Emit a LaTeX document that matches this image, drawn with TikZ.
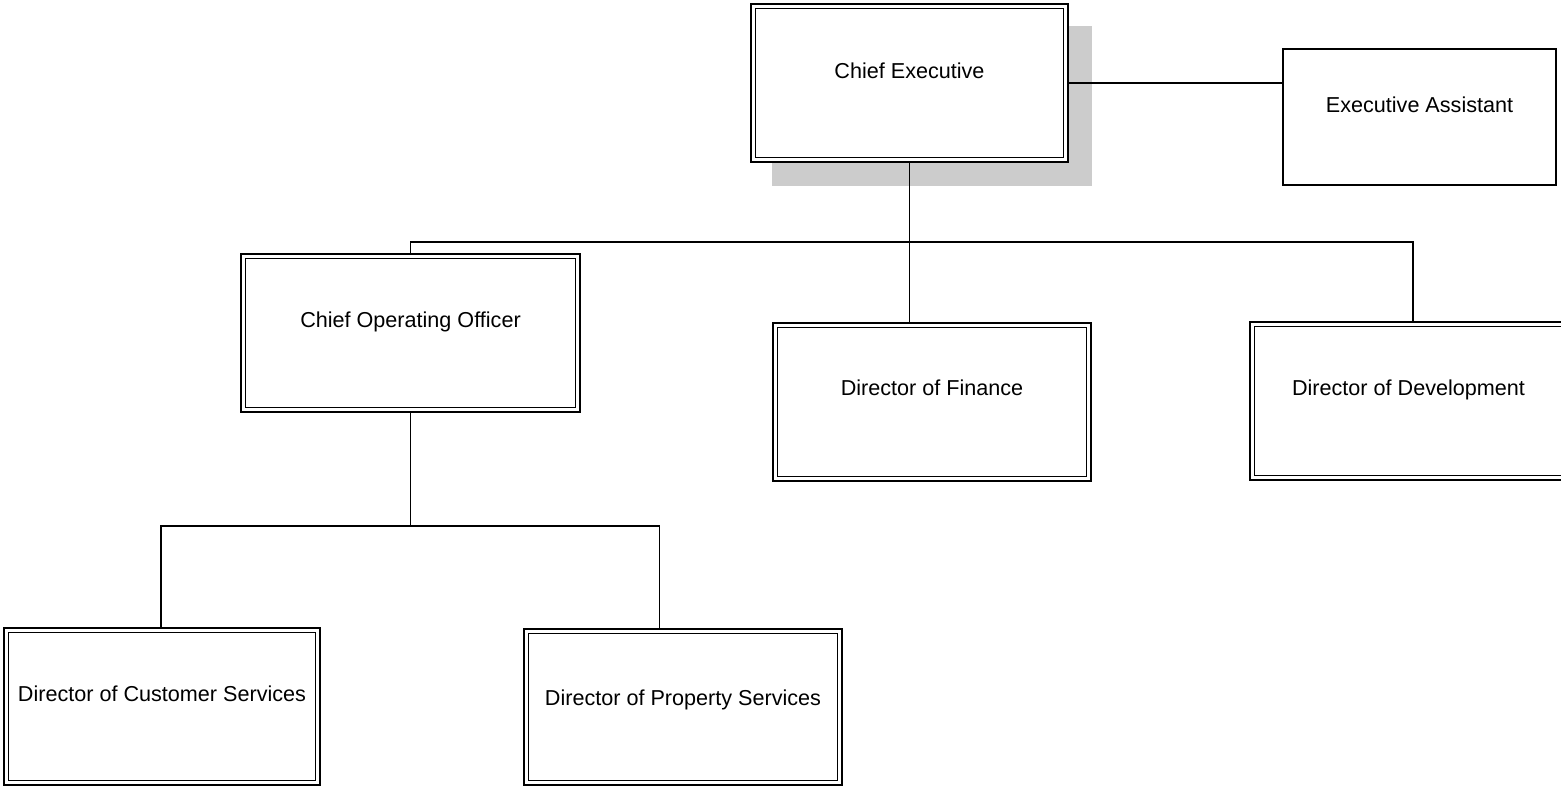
\documentclass[tikz,border=0pt]{standalone}
\usepackage{fontspec}
\setmainfont{Liberation Sans}
\usetikzlibrary{backgrounds}
\begin{document}
\begin{tikzpicture}[x=1pt,y=-1pt,
  dbox/.style={draw, line width=2.2pt, fill=white, inner sep=0pt, outer sep=0pt},
  sbox/.style={draw, line width=1.8pt, fill=white, inner sep=0pt, outer sep=0pt},
  innerline/.style={line width=1.3pt},
  conn/.style={line width=1.8pt},
  lbl/.style={anchor=base, inner sep=0pt, font=\fontsize{21.6}{26}\selectfont},
  shadowc/.style={fill=black!20}]
\useasboundingbox (0,0) rectangle (1561,787);
\clip (0,0) rectangle (1561,787);

% boxes
\node[dbox, minimum width=317pt, minimum height=158pt] (ce)  at (909.5,83)  {};
\node[sbox, minimum width=273pt, minimum height=136pt] (ea)  at (1419.5,117) {};
\node[dbox, minimum width=339pt, minimum height=158pt] (coo) at (410.5,333) {};
\node[dbox, minimum width=318pt, minimum height=158pt] (df)  at (932,402)   {};
\node[dbox, minimum width=317pt, minimum height=158pt] (dd)  at (1408.5,401) {};
\node[dbox, minimum width=316pt, minimum height=157pt] (dcs) at (162,706.5) {};
\node[dbox, minimum width=318pt, minimum height=156pt] (dps) at (683,707)   {};

\foreach \b in {ce,coo,df,dd,dcs,dps}
  \draw[innerline] ([shift={(4.7,4.7)}]\b.north west) rectangle ([shift={(-4.7,-4.7)}]\b.south east);

\begin{scope}[on background layer]
  \fill[white] (0,0) rectangle (1561,787);
  \fill[shadowc] ([shift={(21,22)}]ce.north west) rectangle ([shift={(24,24)}]ce.south east);
\end{scope}

% labels
\node[lbl] (ce-t)  at (909.5,78)  {Chief Executive};
\node[lbl] (ea-t)  at (1419.5,112) {Executive Assistant};
\node[lbl] (coo-t) at (410.5,327) {Chief Operating Officer};
\node[lbl] (df-t)  at (932,395)   {Director of Finance};
\node[lbl] (dd-t)  at (1408.5,395) {Director of Development};
\node[lbl] (dcs-t) at (162,701)   {Director of Customer Services};
\node[lbl] (dps-t) at (683,705)   {Director of Property Services};

% connectors
\coordinate (j1) at (909.5,242);
\coordinate (j2) at (410.5,526);
\draw[conn] (ce.east) -- (ce.east -| ea.west);
\draw[conn] (ce.south) -- (j1);
\draw[conn] (coo.north) |- (j1) -| ([xshift=4.5pt]dd.north);
\draw[conn] (j1) -- (j1 |- df.north);
\draw[conn] (coo.south) -- (j2);
\draw[conn] ([xshift=-1pt]dcs.north) |- (j2) -| ([xshift=-23.5pt]dps.north);
\end{tikzpicture}
\end{document}
